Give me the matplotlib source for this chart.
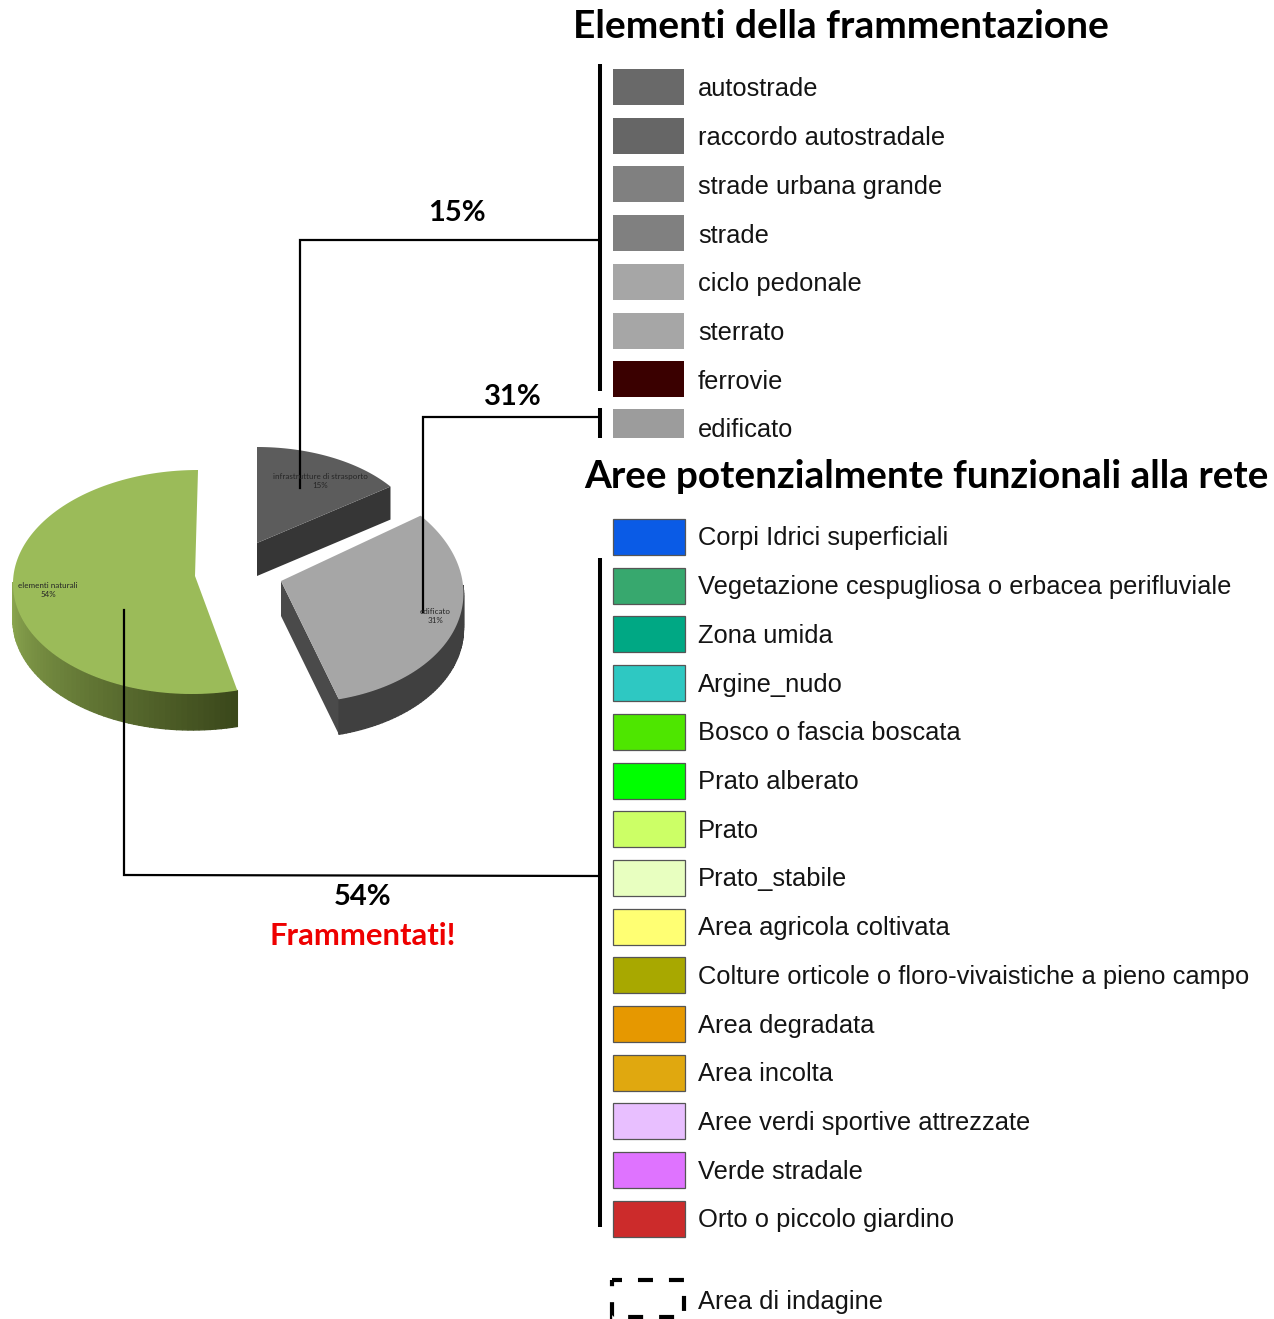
import matplotlib as mpl
mpl.use("Agg")
import matplotlib.pyplot as plt
from matplotlib.patches import Polygon, Rectangle
import numpy as np

# pie data
pie_labels = ["elementi naturali", "edificato", "infrastrutture di strasporto"]
pie_values = [54, 31, 15]
pct_labels = ["54%", "31%", "15%"]

# legend entries
frag_labels = ["autostrade", "raccordo autostradale", "strade urbana grande", "strade",
               "ciclo pedonale", "sterrato", "ferrovie", "edificato"]
frag_colors = ["#696969", "#666666", "#808080", "#808080",
               "#a6a6a6", "#a6a6a6", "#3a0000", "#9c9c9c"]
area_labels = ["Corpi Idrici superficiali", "Vegetazione cespugliosa o erbacea perifluviale",
               "Zona umida", "Argine_nudo", "Bosco o fascia boscata", "Prato alberato", "Prato",
               "Prato_stabile", "Area agricola coltivata",
               "Colture orticole o floro-vivaistiche a pieno campo", "Area degradata",
               "Area incolta", "Aree verdi sportive attrezzate", "Verde stradale",
               "Orto o piccolo giardino"]
area_colors = ["#0a5be6", "#37a86e", "#00a884", "#2ec8c2", "#4ee600", "#00ff00", "#ccff66",
               "#e8ffc0", "#ffff73", "#a8a800", "#e69800", "#e0a80f", "#e8bfff", "#df73ff",
               "#cc2b2b"]

plt.rcParams["lines.scale_dashes"] = False
W, H = 1274, 1319
fig = plt.figure(figsize=(W / 100, H / 100), dpi=100)
ax = fig.add_axes([0, 0, 1, 1])
ax.set_xlim(0, W)
ax.set_ylim(H, 0)
ax.axis("off")


def point(cx, cy, rx, ry, shear, deg):
    t = np.radians(deg)
    return cx + rx * np.cos(t) + shear * ry * np.sin(t), cy - ry * np.sin(t)


def mix(c1, c2, f):
    a, b = np.array(mpl.colors.to_rgb(c1)), np.array(mpl.colors.to_rgb(c2))
    return a + (b - a) * f


# slices start at the top and go counterclockwise
bounds = 90 + np.cumsum([0] + pie_values) * 3.6
geom = [(195, 582, 182, 112, 0.027, 36), (281, 585, 182, 118, -0.11, 35), (257, 543, 165, 96, 0, 33)]
apex = [(195, 576), (281, 581), (257, 543)]
top_colors = ["#9bbb59", "#a6a6a6", "#5c5c5c"]
side_colors = [("#8fab52", "#3b481b"), ("#404040", "#404040"), ("#363636", "#363636")]
cut_colors = [None, "#4a4a4a", "#363636"]

for i in [2, 1, 0]:
    cx, cy, rx, ry, sh, d = geom[i]
    ax_, ay_ = apex[i]
    a0, a1 = bounds[i], bounds[i + 1]
    # cut face towards the viewer
    if i == 1:
        p = point(cx, cy, rx, ry, sh, a0)
        ax.add_patch(Polygon([(ax_, ay_), p, (p[0], p[1] + d), (ax_, ay_ + d)], fc=cut_colors[i], ec="none"))
    if i == 2:
        p = point(cx, cy, rx, ry, sh, bounds[2])
        ax.add_patch(Polygon([(ax_, ay_), p, (p[0], p[1] + d), (ax_, ay_ + d)], fc=cut_colors[i], ec="none"))
    # outer wall, only the front part shows
    lo, hi = max(a0, 180), min(a1, 360)
    if hi > lo:
        steps = np.linspace(lo, hi, 61)
        for j in range(60):
            p0 = point(cx, cy, rx, ry, sh, steps[j])
            p1 = point(cx, cy, rx, ry, sh, steps[j + 1])
            col = mix(side_colors[i][0], side_colors[i][1], j / 59)
            ax.add_patch(Polygon([p0, p1, (p1[0], p1[1] + d), (p0[0], p0[1] + d)],
                                 fc=col, ec=col, lw=1.0))
    arc = [point(cx, cy, rx, ry, sh, a) for a in np.linspace(a0, a1, 120)]
    ax.add_patch(Polygon([(ax_, ay_)] + arc, fc=top_colors[i], ec="none"))

label_pos = [(48, 590), (435, 616), (320, 481)]
for name, pct, (x, y) in zip(pie_labels, pct_labels, label_pos):
    ax.text(x, y, name + "\n" + pct, fontsize=5.8, family="Lato", ha="center", va="center",
            color="#262626", linespacing=1.3)

# connectors
ax.plot([300, 300, 600], [488, 240, 240], color="black", lw=1.6, solid_joinstyle="miter")
ax.plot([423, 423, 600], [612, 417, 417], color="black", lw=1.6, solid_joinstyle="miter")
ax.plot([124, 124, 600], [610, 875, 876], color="black", lw=1.6, solid_joinstyle="miter")

# bars beside the legends
for y0, y1 in [(64, 391), (408, 438), (558, 1227)]:
    ax.plot([600, 600], [y0, y1], color="black", lw=2.9, solid_capstyle="butt")

# legend rows
step = 48.7
for i, (name, col) in enumerate(zip(frag_labels, frag_colors)):
    yc = 87 + step * i
    top, h = yc - 18, 36
    if name == "edificato":
        top, h = 409, 29
    ax.add_patch(Rectangle((613, top), 71, h, fc=col, ec="none"))
    ax.text(698, 89.5 + step * i, name, fontsize=18.4, family="Liberation Sans", va="center", color="#141414")
for i, (name, col) in enumerate(zip(area_labels, area_colors)):
    yc = 537 + step * i
    ax.add_patch(Rectangle((613, yc - 18), 72, 36, fc=col, ec="#555555", lw=0.9))
    ax.text(698, yc + 1.5, name, fontsize=18.4, family="Liberation Sans", va="center", color="#141414")

# study area sample
ax.add_patch(Rectangle((612, 1280), 72, 37, fc="none", ec="black", lw=3,
                       linestyle=(3.6, (10.8, 11.5))))
ax.text(698, 1301.5, "Area di indagine", fontsize=18.4, family="Liberation Sans", va="center", color="#141414")

# headings
ax.text(841, 26, "Elementi della frammentazione", fontsize=28, family="Lato", weight="bold",
        ha="center", va="center", color="black")
ax.text(926, 476, "Aree potenzialmente funzionali alla rete", fontsize=27.9, family="Lato", weight="bold",
        ha="center", va="center", color="black")
ax.text(457, 213, pct_labels[2], fontsize=21, family="Lato", weight="bold", ha="center", va="center")
ax.text(513, 397, pct_labels[1], fontsize=21, family="Lato", weight="bold", ha="center", va="center")
ax.text(363, 897, pct_labels[0], fontsize=21, family="Lato", weight="bold", ha="center", va="center")
ax.text(363, 936, "Frammentati!", fontsize=22.3, family="Lato", weight="bold", ha="center", va="center",
        color="#ee0000")

fig.savefig("out.png", dpi=100, facecolor="white")
